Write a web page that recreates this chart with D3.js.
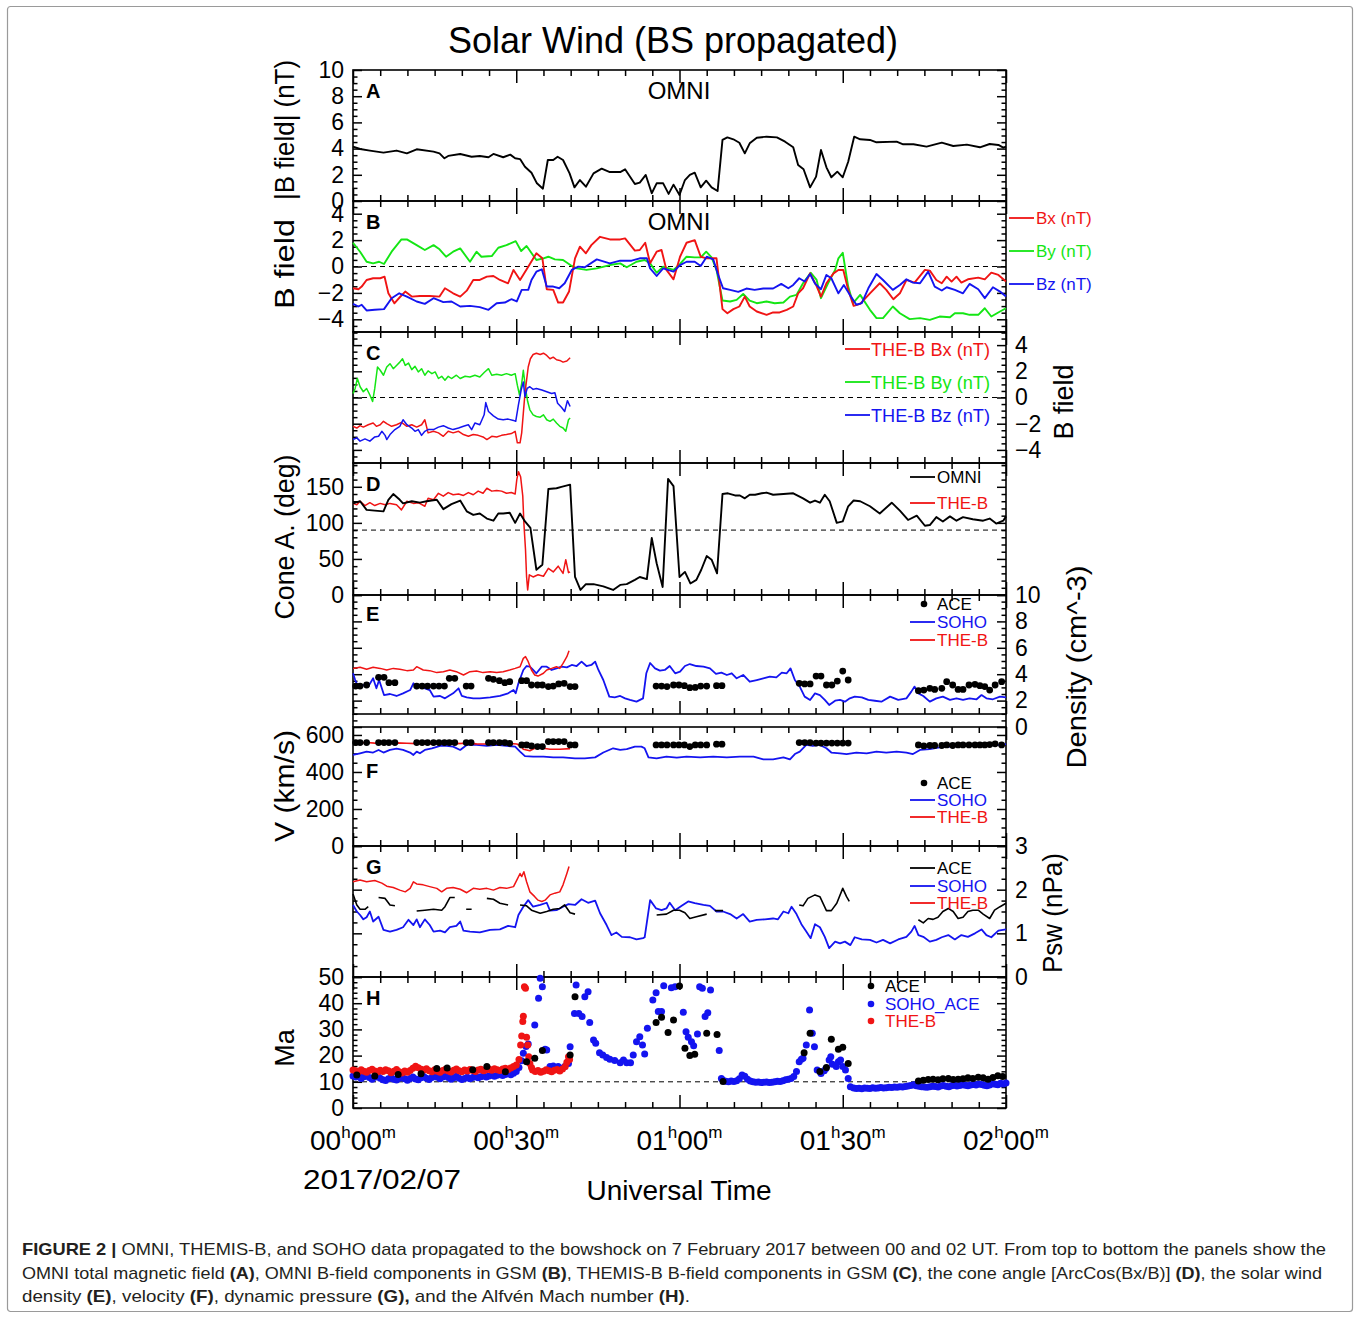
<!DOCTYPE html>
<html><head><meta charset="utf-8">
<script src="https://cdn.jsdelivr.net/npm/d3@7"></script>
<style>body{margin:0;background:#fff}svg{display:block}text{font-family:"Liberation Sans",Arial,sans-serif}</style>
</head><body><svg id="c" width="1360" height="1319"></svg>
<script>
// ---------------- DATA (time in minutes after 00:00 UT) ----------------
const omniBt=[[0,4.15],[1.3,3.97],[3.1,3.85],[5.6,3.69],[8.0,3.85],[9.9,3.64],[11.7,3.95],[14.8,3.77],[15.9,3.64],[16.8,3.26],[17.5,3.44],[19.7,3.59],[21.8,3.38],[23.3,3.44],[24.9,3.34],[25.8,3.59],[27.6,3.34],[28.9,3.54],[29.8,3.26],[30.7,3.2],[31.6,2.62],[32.8,2.16],[33.8,1.35],[34.9,0.94],[35.8,3.13],[36.8,3.13],[37.6,3.38],[38.6,3.13],[39.8,2.11],[40.7,1.04],[41.7,1.6],[42.8,1.09],[44.2,2.11],[45.7,2.47],[47.2,2.21],[49.1,2.21],[50,2.42],[51.8,1.3],[52.7,1.4],[53.8,1.99],[54.9,0.59],[55.8,1.35],[57.0,1.35],[58.0,0.54],[58.9,1.25],[60.0,0.46],[61.0,1.6],[61.9,1.99],[62.8,2.16],[63.9,1.04],[64.9,1.55],[65.9,1.04],[67.0,0.76],[67.9,4.66],[68.8,4.86],[69.9,4.71],[71.0,4.45],[72.0,3.64],[72.9,4.4],[74.2,4.83],[76,4.91],[77.9,4.86],[79.4,4.53],[80.9,4.1],[81.8,2.75],[82.8,2.42],[84.0,1.04],[85.1,1.86],[86.0,3.89],[87.0,2.57],[87.9,1.81],[89.0,2.24],[90.0,1.81],[91.0,3.0],[92.1,4.91],[93.2,4.71],[95,4.66],[96.2,4.48],[99.9,4.53],[101.1,4.33],[103,4.33],[105.4,4.15],[108.2,4.45],[110.3,4.2],[112.8,4.3],[115.2,4.1],[117,4.35],[118.6,4.28],[119.5,4.07],[120,4.15]];

const omniBx=[[0,-1.65],[1.0,-1.72],[1.6,-1.52],[2.5,-1.02],[3.7,-0.89],[5.0,-0.89],[5.8,-0.77],[6.5,-2.03],[7.6,-2.79],[8.6,-2.33],[9.6,-1.9],[10.8,-2.28],[12.3,-2.23],[14.1,-2.23],[15.9,-2.28],[16.9,-1.65],[18.4,-2.03],[19.7,-2.28],[20.9,-1.83],[22.1,-1.02],[23.3,-1.02],[24.6,-0.77],[25.8,-0.72],[27.0,-1.02],[28.5,-1.27],[29.5,-0.26],[30.7,-1.02],[32.2,-0.01],[33.7,1.0],[34.8,0.62],[35.6,-1.72],[36.8,-1.77],[37.7,-2.73],[38.6,-2.73],[39.7,-1.9],[40.8,0.62],[41.7,1.5],[42.8,1.0],[43.8,1.62],[45.4,2.25],[47.2,2.05],[49.1,2.05],[50,2.13],[51.8,1.2],[52.7,1.25],[53.7,1.8],[54.6,0.24],[55.8,1.12],[56.7,1.25],[57.6,-0.26],[58.9,-0.97],[60.1,0.74],[61.3,1.8],[62.8,2.0],[63.9,0.74],[65.0,0.62],[66.8,0.62],[67.9,-3.23],[68.8,-3.54],[69.9,-3.23],[71.0,-3.03],[72.0,-2.28],[72.9,-3.03],[74.2,-3.41],[76.0,-3.66],[77.2,-3.48],[78.4,-3.48],[79.7,-3.28],[80.9,-3.03],[81.8,-2.03],[82.7,-1.65],[84.0,-0.52],[85.1,-1.4],[86.0,-2.28],[87.0,-1.27],[88.3,-0.52],[89.2,-0.26],[90.1,-0.26],[91.0,-1.77],[92.0,-2.98],[93.2,-2.83],[95.0,-2.03],[96.8,-1.27],[98.0,-1.77],[99.3,-2.48],[100.5,-2.03],[101.7,-1.02],[103.2,-1.22],[105.1,-0.26],[106.0,-0.31],[107.2,-1.02],[108.2,-1.27],[109.1,-0.77],[110.0,-1.14],[110.9,-0.77],[111.8,-1.22],[113.0,-0.97],[114.9,-0.84],[116.1,-0.97],[117.3,-0.47],[118.6,-0.64],[120,-1.14]];

const omniBy=[[0,1.8],[1.3,1.12],[2.5,0.36],[3.7,0.24],[4.8,0.36],[5.7,0.19],[7.1,1.12],[8.9,2.05],[9.9,2.05],[11.7,1.62],[13.2,1.25],[14.8,1.62],[15.9,1.3],[17.1,0.74],[18.4,1.12],[19.7,1.37],[21.5,0.36],[22.7,1.12],[23.6,0.74],[25.5,0.79],[26.7,1.42],[28.2,1.62],[29.9,1.92],[30.9,1.17],[31.9,1.55],[33.7,0.49],[35.0,0.62],[35.9,0.74],[37.1,0.54],[38.6,0.49],[40.2,0.04],[41.1,-0.14],[42.9,-0.26],[44.8,-0.14],[47.2,0.11],[49.1,0.24],[50.3,-0.06],[52.1,0.36],[53.6,0.49],[54.6,0.24],[55.8,-0.47],[57.0,-0.01],[58.9,-0.26],[60.1,0.19],[61.3,0.74],[62.8,0.69],[63.9,0.69],[64.9,1.12],[65.9,0.69],[66.8,-0.26],[67.9,-2.58],[69.3,-2.65],[70.5,-2.53],[71.7,-2.08],[72.9,-2.58],[74.2,-2.78],[76.0,-2.65],[77.5,-2.78],[79.1,-2.73],[80.3,-2.28],[81.5,-2.15],[82.7,-1.27],[84.1,-0.47],[85.2,-1.02],[86.0,-2.4],[87.3,-1.27],[88.6,-0.26],[89.2,0.62],[90.0,1.04],[91.0,-1.52],[91.9,-2.78],[93.2,-2.15],[95.0,-3.28],[96.2,-3.91],[97.4,-3.91],[99.2,-3.03],[100.5,-3.54],[102.3,-3.99],[104.2,-3.91],[106.0,-4.04],[107.8,-3.79],[109.7,-3.84],[110.6,-3.54],[112.1,-3.54],[113.3,-3.66],[114.9,-3.66],[116.1,-3.16],[117.3,-3.79],[118.9,-3.41],[120,-3.16]];

const omniBz=[[0,-2.83],[1.0,-3.03],[1.6,-2.9],[2.5,-3.33],[4.0,-3.28],[5.7,-3.23],[7.1,-2.4],[8.5,-2.03],[9.9,-2.28],[11.7,-2.65],[13.2,-2.83],[14.8,-2.4],[16.6,-2.7],[18.1,-2.65],[19.7,-3.03],[21.5,-2.98],[23.3,-3.08],[24.9,-3.28],[26.4,-2.78],[27.9,-2.73],[29.1,-2.48],[30.1,-2.65],[31.0,-1.77],[32.2,-1.77],[32.8,-1.02],[33.7,-0.39],[34.7,-0.21],[35.6,-1.52],[36.8,-1.52],[37.9,-1.65],[38.9,-1.27],[40.2,-0.26],[41.4,-0.01],[42.6,-0.06],[44.8,0.54],[47.2,0.24],[49.1,0.44],[51.2,0.44],[52.7,0.62],[54.0,0.62],[54.6,-0.14],[55.8,-0.72],[57.0,-0.14],[58.9,-0.39],[60.1,0.11],[61.3,0.36],[62.8,0.36],[63.9,0.04],[65.0,0.74],[66.2,0.54],[67.1,-0.64],[68.0,-1.65],[69.3,-1.77],[70.8,-1.92],[72.3,-1.67],[73.8,-1.77],[75.4,-1.67],[77.2,-1.67],[78.7,-1.32],[80.0,-1.65],[80.9,-1.4],[82.0,-0.89],[83.0,-1.14],[84.0,-0.57],[84.9,-1.3],[86.0,-1.72],[87.0,-0.64],[87.9,-0.89],[89.2,-2.03],[90.2,-1.4],[91.3,-2.15],[92.5,-2.9],[93.5,-2.78],[94.7,-1.65],[96.2,-0.57],[97.4,-1.02],[99.2,-1.77],[100.5,-1.4],[101.7,-0.97],[102.9,-1.22],[104.2,-1.27],[105.7,-0.39],[106.9,-1.52],[108.2,-1.82],[109.1,-1.57],[110.6,-1.77],[112.1,-2.03],[113.3,-1.32],[114.9,-1.72],[116.1,-2.4],[117.6,-1.57],[118.9,-1.9],[120,-2.28]];

const theBx=[[0,-2.2],[0.7,-2.33],[1.3,-2.15],[1.9,-2.26],[2.8,-2.08],[3.7,-1.95],[4.3,-2.2],[5.0,-2.08],[5.6,-1.82],[6.2,-2.0],[7.1,-2.2],[8.0,-2.08],[8.9,-1.9],[9.9,-2.2],[10.8,-2.08],[11.7,-2.26],[12.6,-2.08],[13.2,-1.7],[13.8,-2.7],[14.8,-2.58],[15.7,-2.7],[16.6,-2.96],[17.5,-2.58],[18.4,-2.7],[19.4,-2.58],[20.3,-2.83],[21.2,-2.96],[22.1,-2.83],[23.0,-2.89],[23.9,-3.01],[24.6,-3.21],[25.5,-2.96],[26.4,-3.01],[27.3,-2.89],[28.2,-2.83],[29.1,-2.75],[29.8,-2.58],[30.2,-3.46],[30.7,-3.46],[31.0,-2.7],[31.3,-1.19],[31.6,0.31],[31.9,1.32],[32.2,2.33],[32.6,2.96],[33.1,3.28],[33.7,3.38],[34.4,3.28],[35.0,3.38],[35.6,3.21],[36.2,2.96],[36.8,3.08],[37.4,2.88],[38.0,2.83],[38.6,2.7],[39.3,2.78],[39.9,3.03]];
const theBy=[[0,0.31],[0.4,0.69],[0.8,1.45],[1.3,0.82],[1.9,0.44],[2.5,0.69],[3.1,0.19],[3.6,-0.31],[4.0,0.69],[4.5,2.33],[5.0,2.08],[5.6,1.7],[6.2,2.33],[6.8,2.58],[7.4,2.2],[8.0,2.45],[8.6,2.7],[9.1,2.96],[9.6,2.45],[10.2,2.63],[10.8,2.13],[11.4,2.38],[12.0,1.95],[12.6,2.2],[13.2,1.7],[13.8,2.03],[14.5,1.82],[15.1,1.95],[15.7,1.45],[16.3,1.62],[16.9,1.32],[17.5,1.62],[18.1,1.45],[19.0,1.7],[19.7,1.45],[20.6,1.62],[21.5,1.57],[22.4,1.7],[23.3,1.57],[24.2,1.95],[24.9,2.2],[25.5,1.7],[26.4,1.77],[27.3,1.7],[28.2,1.82],[29.1,1.7],[29.8,1.82],[30.2,0.94],[30.6,0.19],[31.0,1.07],[31.3,2.08],[31.7,0.69],[32.1,-0.31],[32.5,-0.94],[33.1,-1.32],[33.7,-1.45],[34.4,-1.5],[35.0,-1.32],[35.6,-1.7],[36.2,-1.82],[36.8,-1.65],[37.4,-1.95],[38.0,-2.2],[38.6,-2.33],[39.1,-2.58],[39.6,-1.7],[39.9,-1.57]];
const theBz=[[0,-3.21],[0.7,-3.08],[1.3,-3.33],[2.2,-3.16],[3.1,-3.33],[4.0,-3.01],[4.7,-2.96],[5.3,-2.58],[5.9,-2.89],[6.2,-3.21],[6.8,-2.83],[7.7,-2.45],[8.6,-2.2],[9.2,-1.7],[9.9,-2.08],[10.8,-2.33],[11.4,-2.58],[12.0,-2.45],[12.6,-2.89],[13.2,-2.58],[13.8,-2.45],[14.8,-2.45],[15.7,-2.26],[16.6,-2.15],[17.5,-2.33],[18.4,-2.45],[19.4,-2.33],[20.3,-2.2],[21.2,-2.08],[21.8,-2.45],[22.4,-1.95],[23.3,-2.08],[24.1,-1.32],[24.4,-0.39],[24.9,-1.07],[25.8,-1.4],[26.7,-1.65],[27.6,-1.7],[28.5,-1.65],[29.5,-1.75],[29.9,-1.82],[30.4,-0.57],[30.9,0.57],[31.3,1.19],[31.6,0.06],[32.0,0.69],[32.5,0.82],[33.1,0.62],[33.7,0.69],[34.7,0.57],[35.6,0.44],[36.5,0.31],[37.1,0.36],[37.6,-0.44],[38.3,-0.74],[38.9,-1.07],[39.4,-0.24],[39.9,-0.69]];

const omniCone=[[0,127],[1.3,130],[2.5,118],[4.0,117],[5.6,116],[6.5,132],[7.4,140],[8.6,132],[9.2,127],[10.8,130],[12.3,128],[13.5,130],[15.4,132],[16.6,119],[18.1,126],[19.7,131],[20.9,116],[22.1,111],[23.3,113],[24.6,106],[25.8,103],[26.7,113],[27.6,113],[28.8,114],[29.8,100],[30.7,113],[31.6,102],[32.6,93],[33.7,35],[34.8,42],[35.9,147],[37.4,148],[38.3,150],[39.9,153],[40.8,25],[41.8,7],[42.8,15],[44.2,15],[46.0,12],[47.8,7],[49.1,14],[50.3,15],[51.8,21],[52.7,25],[54.0,22],[54.9,79],[55.8,44],[56.9,11],[57.9,161],[58.9,151],[60.0,25],[61.0,32],[62.0,16],[63.1,21],[64.0,35],[65.0,54],[65.9,49],[66.9,30],[67.9,140],[68.9,141],[70.2,138],[71.1,138],[72.0,134],[72.9,139],[73.9,139],[75.1,141],[76.0,142],[77.2,139],[79.1,140],[80.9,141],[82.7,134],[84.0,128],[84.9,131],[85.8,128],[86.7,139],[87.6,130],[88.9,100],[90.0,102],[91.0,123],[92.0,131],[93.2,130],[95.0,123],[96.8,113],[99.0,128],[100.5,117],[102.0,104],[103.6,110],[105.1,96],[106.0,97],[107.2,108],[108.4,102],[109.7,109],[110.9,103],[112.1,108],[113.9,105],[115.8,103],[117.0,106],[118.2,99],[119.5,103],[120,109]];
const theCone=[[0,127],[0.7,125],[1.3,130],[2.2,124],[3.1,128],[4.0,124],[5.0,127],[5.9,125],[6.8,127],[8.0,125],[8.9,118],[9.9,130],[11.1,127],[12.0,128],[13.2,123],[13.8,134],[14.8,132],[15.7,141],[16.6,137],[17.5,142],[18.4,139],[19.4,140],[20.3,138],[21.2,142],[22.1,139],[23.0,144],[23.9,141],[24.6,148],[25.5,144],[26.4,145],[27.3,144],[28.2,141],[29.1,142],[29.8,140],[30.1,160],[30.4,171],[30.8,164],[31.2,137],[31.4,100],[31.7,63],[31.9,25],[32.1,7],[32.4,28],[33.1,25],[34.0,28],[35.0,26],[35.9,37],[36.8,32],[37.7,40],[38.6,30],[39.1,49],[39.6,31],[39.9,32]];

const aceN=[[0.5,3.1],[1.3,3.1],[2.5,3.18],[4.7,3.76],[5.7,3.76],[6.6,3.36],[7.7,3.36],[11.7,3.1],[12.7,3.1],[13.7,3.1],[14.8,3.1],[15.8,3.1],[16.8,3.1],[17.7,3.69],[18.7,3.69],[20.8,3.1],[21.7,3.1],[24.9,3.69],[25.8,3.61],[26.9,3.51],[27.9,3.36],[28.8,3.43],[31.0,3.51],[31.9,3.51],[32.8,3.18],[33.9,3.18],[34.8,3.18],[35.9,3.06],[36.8,3.1],[37.8,3.26],[38.8,3.31],[39.9,3.06],[40.8,3.06],[55.7,3.1],[56.7,3.1],[57.7,3.06],[58.9,3.18],[59.9,3.18],[60.9,3.13],[61.9,2.98],[62.9,3.0],[63.9,3.1],[65.0,3.1],[66.8,3.13],[67.8,3.13],[82.0,3.31],[83.0,3.26],[84.0,3.26],[85.1,3.86],[86.0,3.86],[87.0,3.18],[88.0,3.18],[89.0,3.48],[90.0,4.24],[91.0,3.56],[103.9,2.75],[104.9,2.8],[106.0,2.93],[106.9,2.85],[108.2,2.93],[109.1,3.43],[110.2,3.18],[111.2,2.85],[112.1,2.85],[113.2,3.18],[114.3,3.23],[115.2,3.13],[116.1,3.06],[117.0,2.8],[118.0,3.18],[119.2,3.43]];
const sohoN=[[0,4.07],[0.4,3.56],[1.0,3.0],[1.9,3.18],[2.8,3.06],[3.7,3.69],[4.3,2.93],[4.8,3.56],[5.7,2.42],[6.8,2.5],[8.0,2.35],[9.2,2.55],[10.5,2.8],[11.1,3.31],[11.7,2.93],[12.3,3.18],[13.2,2.93],[14.1,2.8],[14.8,2.3],[16.0,2.35],[16.9,2.17],[18.4,2.55],[19.4,2.93],[20.0,2.35],[20.9,2.25],[22.1,2.17],[23.3,2.17],[25.2,2.25],[27.0,2.35],[28.5,2.55],[29.5,2.8],[29.9,2.55],[30.4,3.31],[31.3,4.32],[31.9,4.62],[32.5,4.57],[33.1,4.32],[33.7,4.07],[34.7,4.57],[35.6,4.57],[36.5,4.32],[37.4,4.44],[38.3,4.57],[39.3,4.52],[40.2,4.7],[41.1,4.62],[42.0,4.95],[42.9,4.62],[43.8,4.7],[44.5,4.95],[45.1,4.32],[46.0,3.56],[47.1,2.3],[48.1,2.25],[49.1,2.35],[50.0,2.17],[50.9,2.05],[52.1,1.92],[53.3,2.17],[53.9,4.07],[54.6,4.85],[55.5,4.44],[56.4,4.27],[57.3,4.32],[58.2,4.62],[59.2,4.07],[60.1,4.19],[61.0,4.62],[61.9,4.77],[63.1,4.62],[64.4,4.57],[65.6,4.44],[66.7,4.02],[67.7,4.12],[68.7,3.94],[69.6,4.07],[70.5,3.69],[71.7,3.94],[72.9,3.43],[74.2,3.56],[75.4,3.69],[76.6,3.81],[77.8,3.76],[78.8,4.12],[79.7,4.07],[80.4,4.44],[81.2,3.56],[82.1,3.06],[83.0,2.3],[84.0,2.05],[84.9,2.55],[85.8,2.42],[86.7,2.05],[87.5,1.67],[88.6,1.99],[89.5,2.05],[90.4,1.92],[91.3,2.17],[92.2,2.3],[93.5,2.25],[94.7,2.05],[95.9,1.99],[97.1,1.92],[98.7,2.3],[100.2,2.05],[101.7,2.17],[102.6,2.68],[103.2,3.06],[103.9,2.55],[104.8,2.35],[106.0,1.92],[107.2,2.17],[108.4,2.3],[109.7,2.05],[110.9,2.17],[112.1,2.05],[113.3,2.17],[114.6,2.1],[115.5,2.42],[116.4,2.17],[117.6,2.1],[118.9,2.3],[120,2.25]];
const theN=[[0,4.44],[1.3,4.52],[2.5,4.37],[3.7,4.52],[5.0,4.44],[6.2,4.32],[7.4,4.44],[8.6,4.37],[9.9,4.27],[11.1,4.32],[11.7,4.57],[12.9,4.32],[14.1,4.27],[15.4,4.12],[16.6,4.19],[17.8,4.32],[19.0,4.19],[20.3,3.94],[21.5,4.19],[22.7,4.24],[23.9,4.12],[25.2,4.19],[26.4,4.12],[27.6,4.19],[28.8,4.32],[29.8,4.44],[30.7,4.57],[31.3,5.2],[31.7,5.33],[32.2,4.95],[32.8,4.32],[33.4,3.94],[34.0,3.86],[35.0,4.07],[35.6,4.32],[36.5,4.44],[37.4,4.57],[38.0,4.44],[38.6,4.82],[39.3,5.33],[39.7,5.78]];

const aceV=[[0.5,559],[1.3,559],[2.5,559],[4.7,559],[5.7,559],[6.6,559],[7.7,559],[11.7,559],[12.7,559],[13.7,559],[14.8,559],[15.8,559],[16.8,559],[17.7,559],[18.7,559],[20.8,559],[21.7,559],[24.9,559],[25.8,559],[26.9,559],[27.9,559],[28.8,555],[31.0,546],[31.9,546],[32.8,541],[33.9,537],[34.8,537],[35.9,564],[36.8,564],[37.8,564],[38.8,564],[39.9,546],[40.8,546],[55.7,546],[56.7,546],[57.7,546],[58.9,546],[59.9,546],[60.9,546],[61.9,537],[62.9,546],[63.9,546],[65.0,546],[66.8,550],[67.8,550],[82.0,559],[83.0,559],[84.0,559],[85.1,556],[86.0,556],[87.0,556],[88.0,556],[89.0,556],[90.0,556],[91.0,556],[103.9,546],[104.9,541],[106.0,543],[106.9,543],[108.2,543],[109.1,546],[110.2,543],[111.2,546],[112.1,546],[113.2,546],[114.3,546],[115.2,546],[116.1,546],[117.0,548],[118.0,552],[119.2,546]];
const sohoV=[[0,492],[1.3,501],[2.5,510],[3.7,505],[4.7,519],[5.6,505],[6.8,519],[8.0,526],[9.2,519],[10.5,505],[11.1,492],[11.7,510],[12.3,501],[13.2,519],[14.5,528],[16.0,541],[17.2,541],[18.4,537],[19.7,519],[20.9,546],[22.7,546],[24.6,541],[26.4,546],[28.2,541],[29.8,537],[30.7,510],[31.6,486],[33.1,483],[35.0,483],[36.8,479],[38.6,479],[40.8,474],[42.6,474],[44.5,479],[46.0,505],[47.8,528],[49.1,519],[50.3,523],[51.8,537],[53.0,537],[53.6,528],[54.3,479],[55.8,474],[57.6,483],[59.5,477],[61.3,483],[63.8,479],[66.2,483],[68.7,479],[71.1,483],[73.6,483],[75.4,468],[77.2,468],[79.1,479],[80.3,468],[81.2,497],[82.1,510],[83.3,546],[84.5,541],[85.8,546],[87.0,528],[87.9,505],[89.5,501],[90.7,497],[92.5,505],[94.4,501],[96.2,510],[98.0,505],[99.9,510],[101.7,505],[102.9,497],[104.2,519],[106.0,523],[107.8,533],[109.7,537],[112.1,541],[114.6,541],[117.0,544],[118.9,546],[120,551]];
const theV=[[0,555],[1.3,557],[2.5,559],[4.0,556],[6.2,555],[8.0,557],[9.9,555],[11.7,553],[13.5,551],[15.4,553],[17.2,551],[19.0,553],[20.9,555],[22.7,552],[24.6,551],[26.4,553],[28.2,555],[30.1,551],[30.8,540],[31.3,523],[32.5,515],[33.4,528],[35.0,528],[36.2,523],[38.0,523],[39.9,526]];

const aceP=[[0,1.9],[0.7,1.65],[1.3,1.55],[2.2,1.55],[2.8,1.61],[3.2,null],[4.7,1.82],[5.9,1.8],[6.8,1.65],[7.7,1.63],[8.2,null],[11.7,1.51],[13.2,1.53],[14.8,1.55],[16.3,1.53],[16.9,1.61],[17.8,1.82],[18.7,1.82],[19.2,null],[20.8,1.55],[21.8,1.55],[22.2,null],[24.6,1.8],[25.8,1.78],[27.0,1.69],[28.5,1.65],[29.0,null],[30.7,1.65],[31.9,1.63],[32.8,1.53],[34.4,1.46],[35.6,1.5],[36.8,1.55],[38.0,1.57],[38.9,1.65],[39.9,1.47],[40.8,1.44],[41.2,null],[55.8,1.42],[57.6,1.44],[58.9,1.53],[60.0,1.53],[61.0,1.47],[61.9,1.34],[63.1,1.38],[65.0,1.44],[65.5,null],[66.5,1.52],[68.0,1.52],[68.5,null],[82.0,1.65],[82.7,1.63],[83.6,1.8],[84.9,1.88],[85.8,1.84],[87.0,1.52],[87.9,1.52],[88.9,1.69],[90.0,2.03],[90.7,1.84],[91.2,1.73],[91.5,null],[103.9,1.31],[104.8,1.24],[105.7,1.34],[106.6,1.32],[107.5,1.37],[108.4,1.5],[109.4,1.57],[110.3,1.5],[111.2,1.34],[112.1,1.37],[113.0,1.5],[113.9,1.53],[114.9,1.53],[115.8,1.44],[117.0,1.34],[117.9,1.53],[118.9,1.61],[120,1.69]];
const sohoP=[[0,1.65],[0.7,1.5],[1.3,1.42],[1.9,1.32],[2.5,1.37],[3.1,1.5],[3.7,1.27],[4.7,1.38],[5.6,1.08],[6.8,1.04],[8.0,1.08],[9.2,1.14],[10.2,1.31],[11.1,1.19],[11.7,1.32],[12.3,1.14],[13.2,1.32],[14.1,1.19],[14.8,1.04],[16.0,1.06],[16.9,1.02],[17.8,1.14],[19.0,1.17],[19.7,1.27],[20.3,1.06],[21.5,1.04],[23.3,1.02],[25.2,1.08],[27.0,1.09],[28.5,1.17],[29.8,1.14],[30.4,1.42],[31.3,1.61],[32.2,1.76],[33.1,1.61],[34.4,1.65],[35.6,1.7],[36.2,1.52],[37.4,1.53],[38.6,1.61],[39.6,1.67],[40.8,1.65],[42.0,1.78],[43.2,1.7],[44.5,1.75],[45.4,1.46],[46.6,1.19],[47.5,0.96],[48.4,1.02],[49.4,0.92],[50.9,0.91],[52.1,0.86],[53.3,0.89],[53.6,0.91],[54.6,1.76],[55.7,1.57],[56.7,1.53],[57.6,1.57],[58.2,1.7],[59.2,1.53],[60.4,1.63],[61.6,1.73],[62.8,1.69],[64.4,1.65],[65.6,1.63],[66.8,1.5],[68.0,1.5],[69.3,1.44],[70.5,1.34],[71.7,1.44],[72.9,1.27],[74.2,1.31],[75.7,1.32],[77.2,1.34],[78.1,1.32],[79.1,1.5],[80.0,1.46],[80.6,1.61],[81.5,1.44],[82.4,1.21],[83.3,1.04],[84.1,0.89],[84.9,1.21],[85.8,1.14],[86.7,0.92],[87.5,0.66],[88.6,0.81],[89.5,0.77],[90.4,0.81],[91.4,0.73],[92.2,0.91],[93.5,0.86],[95.0,0.85],[96.2,0.79],[97.4,0.85],[98.7,0.77],[100.2,0.86],[101.7,0.92],[102.6,1.04],[103.2,1.17],[103.9,0.96],[104.8,0.92],[106.0,0.81],[107.2,0.85],[108.2,0.91],[109.4,0.96],[110.6,0.86],[111.8,0.96],[113.0,0.92],[114.3,1.0],[115.5,1.09],[116.4,0.96],[117.3,0.91],[118.6,1.06],[120,1.09]];
const theP=[[0,2.18],[1.3,2.22],[2.5,2.18],[4.0,2.21],[5.3,2.15],[6.2,2.08],[7.4,2.05],[8.6,1.99],[9.6,1.95],[10.5,2.03],[11.1,2.18],[11.7,2.13],[12.9,2.11],[14.1,2.07],[15.4,2.03],[16.3,1.95],[17.2,2.03],[18.4,2.05],[19.7,2.01],[20.9,1.93],[22.1,2.03],[23.3,2.01],[24.6,2.03],[25.8,1.99],[27.0,2.05],[28.2,2.03],[29.5,2.07],[30.1,2.22],[30.7,2.37],[31.0,2.3],[31.4,2.41],[31.9,2.18],[32.5,1.95],[33.4,1.84],[34.0,1.76],[34.7,1.73],[35.3,1.76],[36.2,1.88],[37.1,1.92],[38.0,1.95],[38.6,2.11],[39.3,2.37],[39.7,2.53]];

const sohoMa=[[0,12.2],[0.5,11.8],[1,12.5],[1.5,11.3],[2,11.9],[2.5,12.4],[3,11.6],[3.5,11.0],[4,11.7],[4.5,12.3],[5,11.4],[5.5,10.8],[6,10.5],[6.5,11.2],[7,11.6],[7.5,11.0],[8,10.7],[8.5,11.4],[9,11.9],[9.5,11.2],[10,10.6],[10.5,11.3],[11,11.8],[11.5,11.1],[12,10.8],[12.5,11.5],[13,12.0],[13.5,11.4],[14,10.9],[14.5,11.6],[15,12.2],[15.5,11.7],[16,11.2],[16.5,11.8],[17,12.3],[17.5,11.6],[18,11.0],[18.5,11.5],[19,12.1],[19.5,11.4],[20,10.9],[20.5,11.3],[21,11.7],[21.5,11.2],[22,11.6],[22.5,12.0],[23,11.5],[23.5,11.9],[24,12.3],[24.5,11.8],[25,12.2],[25.5,12.6],[26,12.1],[26.5,12.5],[27,12.9],[27.5,12.4],[28,12.8],[28.5,13.2],[29,12.7],[29.5,13.3],[30,13.9],[30.5,15.5],[31.0,18.0],[31.3,20.9],[31.8,23.5],[32.2,24.4],[33.4,31.7],[34.1,41.9],[34.4,49.5],[34.8,46.3],[35.3,22.4],[35.6,22.1],[36.2,15.8],[36.8,16.0],[37.2,15.5],[37.7,15.8],[38.3,15.1],[38.9,15.8],[39.6,17.0],[39.9,23.4],[40.7,36.1],[41.0,46.9],[41.5,36.1],[42.1,34.9],[42.6,42.5],[43.2,44.4],[43.5,32.6],[44.2,26.0],[44.6,24.7],[45.3,21.1],[45.9,20.2],[46.6,19.3],[47.2,18.6],[48.1,18.1],[49.1,17.3],[49.7,18.3],[50.3,17.3],[51.0,17.3],[51.5,20.2],[52.1,25.3],[52.7,27.2],[53.2,24.0],[53.6,20.6],[54.1,30.4],[55.1,41.2],[55.7,44.0],[56.1,36.8],[56.7,36.8],[57.1,46.7],[58.5,45.9],[59.2,46.3],[60.7,36.5],[61.2,29.1],[61.6,27.0],[62.2,25.3],[62.6,23.8],[63.3,28.2],[63.7,46.3],[64.2,45.7],[64.7,34.9],[65.2,36.4],[65.7,45.0],[67.3,21.9],[67.7,11.3],[68,10.6],[68.5,10.2],[69,10.0],[69.5,10.3],[70,10.1],[70.5,10.4],[71,11.2],[71.5,12.6],[72,12.1],[72.5,11.0],[73,10.3],[73.5,10.0],[74,9.8],[74.5,9.9],[75,9.7],[75.5,9.8],[76,9.9],[76.5,9.7],[77,9.8],[77.5,10.0],[78,10.2],[78.5,10.1],[79,10.4],[79.5,10.8],[80,11.0],[80.5,11.3],[81,12.0],[81.5,13.9],[82,17.7],[82.4,18.6],[82.7,19.0],[83.3,24.0],[83.9,37.4],[84.4,28.5],[84.8,23.4],[85.3,14.5],[86.0,13.2],[86.6,14.2],[86.9,15.1],[87.5,18.3],[87.8,19.6],[88.1,16.7],[88.8,15.8],[89.2,17.7],[89.6,18.3],[90.0,15.8],[90.5,14.5],[91.0,11.3],[91.4,8.1],[92,7.6],[92.5,7.4],[93,7.5],[93.5,7.3],[94,7.6],[94.5,7.5],[95,7.4],[95.5,7.7],[96,7.5],[96.5,7.6],[97,7.8],[97.5,7.6],[98,7.7],[98.5,7.9],[99,7.8],[99.5,8.0],[100,7.9],[100.5,8.1],[101,8.0],[101.5,8.2],[102,8.4],[102.5,8.6],[103,8.9],[103.5,8.5],[104,8.3],[104.5,8.1],[105,8.0],[105.5,7.9],[106,8.1],[106.5,8.3],[107,8.2],[107.5,8.0],[108,8.4],[108.5,8.6],[109,8.3],[109.5,8.1],[110,8.5],[110.5,8.7],[111,8.4],[111.5,8.6],[112,8.9],[112.5,8.7],[113,8.5],[113.5,8.8],[114,9.0],[114.5,8.8],[115,9.2],[115.5,9.0],[116,8.7],[116.5,8.5],[117,8.8],[117.5,9.3],[118,9.1],[118.5,8.9],[119,9.4],[119.5,9.2],[120,9.5]];
const theMa=[[0,14.5],[0.5,14.2],[1,13.8],[1.5,14.6],[2,14.0],[2.5,13.6],[3,14.3],[3.5,14.8],[4,14.1],[4.5,13.7],[5,14.4],[5.5,13.9],[6,14.6],[6.5,14.2],[7,13.5],[7.5,14.0],[8,14.7],[8.5,13.8],[9,13.4],[9.5,14.1],[10,13.6],[10.5,14.3],[11,15.2],[11.5,15.9],[12,15.4],[12.5,14.8],[13,14.5],[13.5,15.0],[14,14.2],[14.5,13.8],[15,14.6],[15.5,14.0],[16,13.6],[16.5,14.3],[17,14.8],[17.5,14.1],[18,13.7],[18.5,14.4],[19,14.9],[19.5,14.2],[20,13.8],[20.5,14.5],[21,14.1],[21.5,14.7],[22,14.3],[22.5,13.9],[23,14.5],[23.5,14.8],[24,14.2],[24.5,14.6],[25,14.9],[25.5,14.4],[26,15.0],[26.5,14.6],[27,14.3],[27.5,14.9],[28,15.2],[28.5,14.7],[29,15.3],[29.5,15.8],[30,16.4],[30.5,18.5],[30.8,24.0],[31.0,27.5],[31.2,33.0],[31.3,35.0],[31.5,46.3],[31.7,45.7],[31.9,27.0],[32.1,24.0],[32.3,19.6],[32.5,17.0],[32.8,15.5],[33,14.5],[33.5,13.9],[34,14.3],[34.5,13.6],[35,14.0],[35.5,14.6],[36,14.2],[36.5,13.8],[37,14.4],[37.5,14.7],[38,14.1],[38.5,14.9],[39,15.8],[39.3,17.5],[39.6,19.6],[39.8,18.5]];
const aceMa=[[0.7,12.6],[4.0,12.2],[8.3,12.8],[12.5,13.1],[15.4,15.1],[17.3,15.3],[22.0,14.6],[24.6,15.8],[28.0,13.8],[31.9,17.7],[33.4,19.0],[34.8,21.9],[39.9,20.2],[40.8,42.5],[55.7,32.6],[56.7,34.6],[57.9,28.8],[58.9,33.6],[60.0,46.6],[61.0,22.8],[61.9,20.0],[62.8,20.5],[65.0,28.5],[66.9,28.1],[68.0,10.1],[82.9,21.1],[84.0,28.5],[85.8,13.9],[87.0,15.5],[87.9,26.2],[89.2,22.4],[90.0,23.2],[91.0,17.0],[103.9,10.3],[104.8,10.6],[105.7,10.9],[106.6,11.0],[107.5,10.8],[108.4,11.2],[109.4,11.3],[110.3,10.9],[111.2,11.0],[112.1,11.2],[113.0,11.5],[113.9,11.3],[114.9,11.7],[115.8,11.5],[116.7,11.0],[117.6,11.6],[118.5,12.3],[119.4,12.0]];

const xTickMinutes=[0,30,60,90,120];
const xTickHours=['00','00','01','01','02'];
const xTickMins=['00','30','00','30','00'];

// ---------------- DRAWING ----------------
const svg=d3.select('#c');
const RED='#f01414',GREEN='#14e614',BLUE='#1414f0',BLACK='#000';
const NUMFONT='DejaVu Sans, Verdana, sans-serif';
const X0=353,X1=1006;
const x=d3.scaleLinear().domain([0,120]).range([X0,X1]);

svg.append('rect').attr('x',7.5).attr('y',6.5).attr('width',1345).attr('height',1305).attr('rx',3)
  .attr('fill','none').attr('stroke','#9a9a9a').attr('stroke-width',1.2);

const panels={
 A:{top:70,bot:201,dom:[0,10],rng:[201,70]},
 B:{top:201,bot:332,dom:[-5,5],rng:[332.5,200.5]},
 C:{top:332,bot:463,dom:[-5,5],rng:[463,332]},
 D:{top:463,bot:595,dom:[0,183],rng:[595,463]},
 E:{top:595,bot:714,dom:[0,10],rng:[727,595]},
 F:{top:727,bot:846,dom:[0,643],rng:[846,727]},
 G:{top:846,bot:977,dom:[0,3],rng:[977,846]},
 H:{top:977,bot:1108,dom:[0,50],rng:[1108,977]}
};
for(const k in panels){panels[k].y=d3.scaleLinear().domain(panels[k].dom).range(panels[k].rng);}

function styleAxis(g){
  g.select('.domain').remove();
  g.selectAll('line').attr('stroke','#000').attr('stroke-width',1.5);
  g.selectAll('text').attr('font-size',23).attr('fill','#000').attr('font-family',NUMFONT);
}
function xTicks(top,bot){
  const minors=d3.range(5,120,5).filter(v=>v%30!==0);
  [[top,d3.axisBottom],[bot,d3.axisTop]].forEach(([yy,fn])=>{
    svg.append('g').attr('transform',`translate(0,${yy})`).call(fn(x).tickValues(xTickMinutes).tickSizeInner(13).tickSizeOuter(0).tickFormat('')).call(styleAxis);
    svg.append('g').attr('transform',`translate(0,${yy})`).call(fn(x).tickValues(minors).tickSizeInner(6).tickSizeOuter(0).tickFormat('')).call(styleAxis);
  });
}
function yTicks(p,majors,minorStep,labelSide){
  const minors=d3.range(p.dom[0],p.dom[1]+1e-9,minorStep).filter(v=>!majors.some(m=>Math.abs(m-v)<1e-6));
  ['L','R'].forEach(side=>{
    const mk=()=>side==='L'?d3.axisLeft(p.y):d3.axisRight(p.y);
    const tx=side==='L'?X0:X1;
    svg.append('g').attr('transform',`translate(${tx},0)`)
      .call(mk().tickValues(majors).tickSizeInner(-9).tickSizeOuter(0).tickPadding(9).tickFormat(labelSide===side?d3.format('d'):''))
      .call(styleAxis);
    svg.append('g').attr('transform',`translate(${tx},0)`)
      .call(mk().tickValues(minors).tickSizeInner(-4.5).tickSizeOuter(0).tickFormat('')).call(styleAxis);
  });
}
function box(p){
  svg.append('rect').attr('x',X0).attr('y',p.top).attr('width',X1-X0).attr('height',p.bot-p.top)
    .attr('fill','none').attr('stroke','#000').attr('stroke-width',1.6);
  xTicks(p.top,p.bot);
}
function dashed(p,v){
  svg.append('line').attr('x1',X0).attr('x2',X1).attr('y1',p.y(v)).attr('y2',p.y(v))
    .attr('stroke','#000').attr('stroke-width',1).attr('stroke-dasharray','5,4');
}
function line(p,data,color,w){
  const gen=d3.line().defined(d=>d[1]!=null).x(d=>x(d[0])).y(d=>p.y(d[1]));
  svg.append('path').datum(data).attr('d',gen).attr('fill','none').attr('stroke',color)
    .attr('stroke-width',w||1.8).attr('stroke-linejoin','round');
}
function dots(p,data,color,r){
  svg.append('g').selectAll('circle').data(data).join('circle')
    .attr('cx',d=>x(d[0])).attr('cy',d=>p.y(d[1])).attr('r',r||3.4).attr('fill',color);
}
function txt(xx,yy,s,o){
  o=o||{};
  const t=svg.append('text').attr('x',xx).attr('y',yy).text(s)
    .attr('font-size',o.fs||17).attr('fill',o.fill||'#000').attr('text-anchor',o.anchor||'start')
    .attr('font-weight',o.fw||'normal');
  if(o.ff) t.attr('font-family',o.ff);
  if(o.rot) t.attr('transform',`rotate(-90,${xx},${yy})`);
  if(o.len) t.attr('textLength',o.len).attr('lengthAdjust','spacingAndGlyphs');
  return t;
}
function legLine(yy,label,color,x0){
  x0=x0||910;
  svg.append('line').attr('x1',x0).attr('x2',x0+25).attr('y1',yy).attr('y2',yy).attr('stroke',color).attr('stroke-width',1.8);
  txt(x0+27,yy+6,label,{fill:color,fs:17});
}
function legDot(yy,label,color,cx,tx){
  svg.append('circle').attr('cx',cx).attr('cy',yy).attr('r',3.3).attr('fill',color);
  txt(tx,yy+6,label,{fill:color,fs:17});
}

// Title
txt(673,53,'Solar Wind (BS propagated)',{fs:36,anchor:'middle'});

// Panel A
const A=panels.A; box(A); yTicks(A,[0,2,4,6,8,10],0.5,'L');
line(A,omniBt,BLACK,1.9);
txt(366,98,'A',{fs:20,fw:'bold'}); txt(679,99,'OMNI',{fs:24,anchor:'middle'});

// Panel B
const B=panels.B; box(B); yTicks(B,[-4,-2,0,2,4],0.5,'L'); dashed(B,0);
line(B,omniBy,GREEN,1.9); line(B,omniBx,RED,1.9); line(B,omniBz,BLUE,1.9);
txt(366,229,'B',{fs:20,fw:'bold'}); txt(679,230,'OMNI',{fs:24,anchor:'middle'});
legLine(218,'Bx (nT)',RED,1009); legLine(251,'By (nT)',GREEN,1009); legLine(284,'Bz (nT)',BLUE,1009);

// Panel C
const C=panels.C; box(C); yTicks(C,[-4,-2,0,2,4],0.5,'R'); dashed(C,0);
line(C,theBy,GREEN,1.5); line(C,theBx,RED,1.5); line(C,theBz,BLUE,1.5);
txt(366,360,'C',{fs:20,fw:'bold'});
[['THE-B Bx (nT)',RED,349],['THE-B By (nT)',GREEN,382],['THE-B Bz (nT)',BLUE,415]].forEach(([s,c,yy])=>{
  svg.append('line').attr('x1',845).attr('x2',870).attr('y1',yy).attr('y2',yy).attr('stroke',c).attr('stroke-width',1.8);
  txt(990,yy+6.5,s,{fill:c,fs:18,anchor:'end',len:119});
});

// Panel D
const D=panels.D; box(D); yTicks(D,[0,50,100,150],10,'L'); dashed(D,90);
line(D,theCone,RED,1.5); line(D,omniCone,BLACK,1.9);
txt(366,491,'D',{fs:20,fw:'bold'});
legLine(477,'OMNI',BLACK); legLine(503,'THE-B',RED);

// Panel E
const E=panels.E; box(E); yTicks(E,[0,2,4,6,8,10],0.5,'R');
svg.append('line').attr('x1',X0).attr('x2',X0).attr('y1',714).attr('y2',727).attr('stroke','#000').attr('stroke-width',1.6);
svg.append('line').attr('x1',X1).attr('x2',X1).attr('y1',714).attr('y2',727).attr('stroke','#000').attr('stroke-width',1.6);
line(E,sohoN,BLUE,1.8); line(E,theN,RED,1.5); dots(E,aceN,BLACK,3.4);
txt(366,621,'E',{fs:20,fw:'bold'});
legDot(604,'ACE',BLACK,924,937); legLine(622,'SOHO',BLUE); legLine(640,'THE-B',RED);

// Panel F
const F=panels.F; box(F); yTicks(F,[0,200,400,600],50,'L');
line(F,sohoV,BLUE,1.8); line(F,theV,RED,1.6); dots(F,aceV,BLACK,3.4);
txt(366,778,'F',{fs:20,fw:'bold'});
legDot(783,'ACE',BLACK,924,937); legLine(800,'SOHO',BLUE); legLine(817,'THE-B',RED);

// Panel G
const G=panels.G; box(G); yTicks(G,[0,1,2,3],0.25,'R');
line(G,sohoP,BLUE,1.8); line(G,theP,RED,1.5); line(G,aceP,BLACK,1.6);
txt(366,874,'G',{fs:20,fw:'bold'});
legLine(868,'ACE',BLACK); legLine(886,'SOHO',BLUE); legLine(903,'THE-B',RED);

// Panel H
const H=panels.H; box(H); yTicks(H,[0,10,20,30,40,50],2,'L'); dashed(H,10);
dots(H,sohoMa,BLUE,3.5); dots(H,theMa,RED,3.5); dots(H,aceMa,BLACK,3.5);
txt(366,1005,'H',{fs:20,fw:'bold'});
legDot(986,'ACE',BLACK,871,885); legDot(1004,'SOHO_ACE',BLUE,871,885); legDot(1021,'THE-B',RED,871,885);

// Axis titles
txt(294,130,'|B field| (nT)',{fs:27,anchor:'middle',rot:true,len:140});
txt(294,264,'B field',{fs:27,anchor:'middle',rot:true,len:90});
txt(1073,402,'B field',{fs:27,anchor:'middle',rot:true});
txt(294,537,'Cone A. (deg)',{fs:27,anchor:'middle',rot:true,len:165});
txt(1086,667,'Density (cm^-3)',{fs:27,anchor:'middle',rot:true,len:203});
txt(294,786,'V (km/s)',{fs:27,anchor:'middle',rot:true,len:112});
txt(1062,913,'Psw (nPa)',{fs:27,anchor:'middle',rot:true,len:120});
txt(294,1048,'Ma',{fs:27,anchor:'middle',rot:true});

// X tick labels
xTickMinutes.forEach((t,i)=>{
  const tt=svg.append('text').attr('x',x(t)).attr('y',1150).attr('text-anchor','middle').attr('font-size',28).attr('font-family',NUMFONT);
  tt.append('tspan').text(xTickHours[i]);
  tt.append('tspan').attr('font-size',17).attr('dy',-12).text('h');
  tt.append('tspan').attr('dy',12).text(xTickMins[i]);
  tt.append('tspan').attr('font-size',17).attr('dy',-12).text('m');
});
txt(303,1189,'2017/02/07',{fs:28,ff:NUMFONT,len:158});
txt(679,1200,'Universal Time',{fs:28,anchor:'middle'});

// Caption
function capLine(yy,parts,len){
  const t=svg.append('text').attr('x',22).attr('y',yy).attr('font-size',17).attr('fill','#231f20');
  parts.forEach(([s,b])=>t.append('tspan').attr('font-weight',b?'bold':'normal').text(s));
  if(len) t.attr('textLength',len).attr('lengthAdjust','spacingAndGlyphs');
}
capLine(1255,[['FIGURE 2 |',1],[' OMNI, THEMIS-B, and SOHO data propagated to the bowshock on 7 February 2017 between 00 and 02 UT. From top to bottom the panels show the',0]],1304);
capLine(1279,[['OMNI total magnetic field ',0],['(A)',1],[', OMNI B-field components in GSM ',0],['(B)',1],[', THEMIS-B B-field components in GSM ',0],['(C)',1],[', the cone angle [ArcCos(Bx/B)] ',0],['(D)',1],[', the solar wind',0]],1300);
capLine(1302,[['density ',0],['(E)',1],[', velocity ',0],['(F)',1],[', dynamic pressure ',0],['(G),',1],[' and the Alfvén Mach number ',0],['(H)',1],['.',0]],668);
</script></body></html>
